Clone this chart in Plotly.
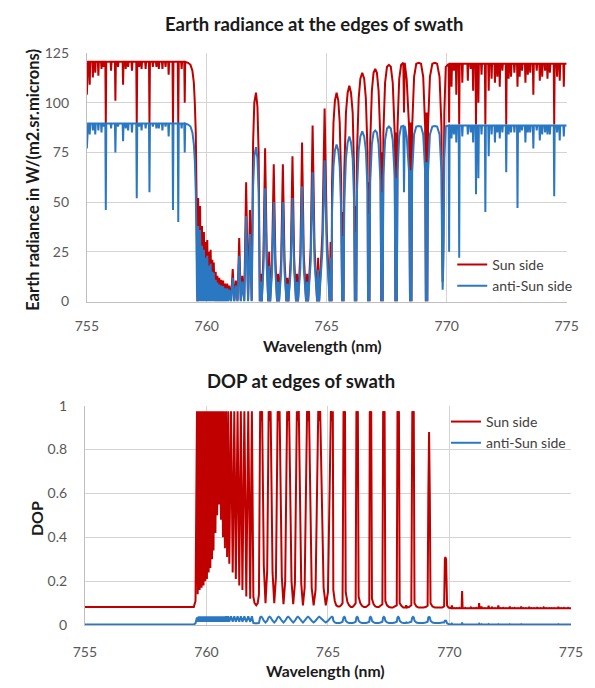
import plotly.graph_objects as go

# ---------------- Earth radiance (top chart) ----------------
# left continuum region 755 - 759.6 nm
left_start_wl = [755.00, 755.05]
left_start_sun = [104, 120.5]
left_start_anti = [77, 89.5]
left_cont_sun = 120.5
left_cont_anti = 89.5
left_lines_wl = [755.12, 755.25, 755.35, 755.48, 755.61, 755.70, 755.79, 756.01, 756.19, 756.30,
                 756.51, 756.62, 756.72, 756.88, 757.08, 757.18, 757.28, 757.45, 757.61, 757.75,
                 757.90, 758.00, 758.15, 758.28, 758.41, 758.59, 758.81, 758.95, 759.08]
left_lines_sun = [109, 112.7, 115, 113.5, 117, 118, 89, 116, 101, 118,
                  109, 117, 118, 116, 89, 118, 117, 117, 89, 118,
                  118, 117, 117, 118, 114, 89, 89, 117, 100]
left_lines_anti = [84, 86, 84, 86, 85, 88, 46, 87, 75, 88,
                   80.6, 87, 86, 85, 52, 88, 86, 87, 55, 88,
                   87, 87, 86, 88, 83, 46, 40, 87, 75]
rolloff_wl = [759.22, 759.32, 759.40, 759.46, 759.50, 759.54, 759.57, 759.59, 759.61]
rolloff_sun = [120, 119, 116, 110, 100, 85, 55, 20, 0]
rolloff_anti = [89, 88, 85, 79, 71, 55, 30, 5, 0]

# dense band 759.6 - 762.2 nm (window peaks / line cores)
band_wl = [759.64, 759.68, 759.72, 759.76, 759.80, 759.84, 759.88, 759.915, 759.95, 759.985,
           760.02, 760.055, 760.09, 760.125, 760.16, 760.195, 760.23, 760.26, 760.29, 760.33,
           760.37, 760.405, 760.44, 760.48, 760.52, 760.56, 760.60, 760.64, 760.68, 760.72,
           760.76, 760.805, 760.85, 760.895, 760.94, 761.01, 761.08, 761.145, 761.21, 761.28,
           761.35, 761.415, 761.48, 761.56, 761.64, 761.72, 761.80, 761.87,
           761.93, 761.98, 762.05, 762.11, 762.16]
band_sun = [52, 0.5, 48, 0.5, 38, 0.5, 35, 0.5, 30, 0.5,
            31, 0.5, 25, 0.5, 26, 0.5, 21, 0.5, 19.6, 0.5,
            15, 0.5, 13, 0.5, 12, 0.5, 11, 0.5, 10.6, 0.5,
            9, 0.5, 9, 0.5, 8, 0.5, 16.3, 0.5, 10.6, 0.5,
            32, 0.5, 13, 0.5, 60, 0.5, 46, 0.5,
            80, 100, 105, 98, 75]
band_anti = [38, 0, 36, 0, 28, 0, 26, 0, 22, 0,
             23, 0, 18, 0, 19, 0, 15, 0, 14.5, 0,
             11, 0, 9.6, 0, 8.5, 0, 8, 0, 7.8, 0,
             6.7, 0, 6.7, 0, 6, 0, 12, 0, 8, 0,
             23, 0, 10, 0, 43, 0, 34, 0,
             58, 73, 77.6, 72, 55]

# P-branch doublets (line cores) and the windows between them, 762.2 - 770 nm
pb_wl = [762.21, 762.25, 762.29, 762.36, 762.43, 762.50,
         762.56, 762.60, 762.64, 762.72, 762.79, 762.86,
         762.93, 762.97, 763.01, 763.10, 763.17, 763.24,
         763.32, 763.36, 763.40, 763.50, 763.57, 763.64,
         763.72, 763.76, 763.80, 763.90, 763.97, 764.04,
         764.14, 764.18, 764.22, 764.33, 764.41, 764.49,
         764.60, 764.64, 764.68, 764.82, 764.91, 765.00,
         765.12, 765.16, 765.20,
         765.22, 765.28, 765.34, 765.41, 765.48, 765.54, 765.60,
         765.64, 765.67, 765.70,
         765.73, 765.80, 765.87, 765.94, 766.01, 766.08, 766.14,
         766.17, 766.20, 766.23,
         766.26, 766.33, 766.40, 766.48, 766.56, 766.63, 766.70,
         766.72, 766.75, 766.78,
         766.81, 766.88, 766.95, 767.02, 767.09, 767.16, 767.24,
         767.27, 767.30, 767.33,
         767.36, 767.43, 767.51, 767.59, 767.67, 767.75, 767.83,
         767.86, 767.89, 767.92,
         767.95, 768.02, 768.10, 768.19, 768.22, 768.25, 768.33, 768.43,
         768.47, 768.50, 768.53,
         768.56, 768.64, 768.73, 768.83, 768.93, 769.02, 769.10,
         769.13, 769.16, 769.19,
         769.22, 769.30, 769.40, 769.50, 769.60, 769.70, 769.78,
         769.81, 769.83, 769.86, 769.90, 769.96]
pb_sun = [0, 14, 0, 23, 77, 23,
          0, 25, 0, 21, 69, 21,
          0, 14, 0, 21, 69, 21,
          0, 12, 0, 22, 73, 22,
          0, 14, 0, 24, 80, 24,
          0, 14, 0, 27, 88.5, 27,
          0, 22, 0, 35, 97, 35,
          0, 30, 0,
          60, 90, 101, 105, 101, 90, 60,
          0, 45, 0,
          65, 95, 105, 108.5, 105, 95, 65,
          0, 48, 0,
          75, 102, 112, 115, 112, 102, 75,
          0, 60, 0,
          80, 106, 115, 117, 115, 106, 80,
          0, 75, 0,
          85, 110, 118, 119, 118, 110, 85,
          0, 85, 0,
          88, 112, 119, 120, 95, 120, 112, 88,
          0, 90, 0,
          88, 113, 119.5, 120, 119.5, 113, 88,
          0, 95, 0,
          88, 113, 119.5, 120, 119.5, 113, 88,
          30, 10, 30, 95, 118]
pb_anti = [0, 10, 0, 17, 57, 17,
           0, 18, 0, 15, 50, 15,
           0, 10, 0, 15, 50, 15,
           0, 9, 0, 16, 52, 16,
           0, 10, 0, 17, 58, 17,
           0, 10, 0, 20, 65, 20,
           0, 16, 0, 26, 71, 26,
           0, 22, 0,
           45, 68, 76, 79, 76, 68, 45,
           0, 33, 0,
           50, 72, 80, 83, 80, 72, 50,
           0, 35, 0,
           56, 76, 83, 85.5, 83, 76, 56,
           0, 44, 0,
           60, 79, 85, 86, 85, 79, 60,
           0, 55, 0,
           63, 81, 87, 88, 87, 81, 63,
           0, 62, 0,
           65, 83, 88, 88.3, 55, 88.3, 83, 65,
           0, 66, 0,
           65, 84, 88, 88.3, 88, 84, 65,
           0, 70, 0,
           65, 84, 88, 88.3, 88, 84, 65,
           20, 6, 20, 72, 88]

# right continuum region 770 - 775 nm
right_cont_sun = 119.5
right_cont_anti = 88.5
right_lines_wl = [770.10, 770.20, 770.30, 770.40, 770.52, 770.65, 770.88, 771.00, 771.10, 771.22,
                  771.32, 771.45, 771.61, 771.75, 771.87, 772.01, 772.11, 772.21, 772.32, 772.48,
                  772.58, 772.68, 772.82, 772.95, 773.04, 773.14, 773.28, 773.38, 773.48, 773.61,
                  773.75, 773.88, 773.98, 774.10, 774.20, 774.30, 774.48, 774.60, 774.71, 774.88]
right_lines_sun = [90, 108, 116, 104, 89, 110, 111, 117, 106, 89,
                   100, 114, 89, 106, 112, 110, 113, 108, 116, 89,
                   112, 113, 115, 108, 113, 116, 110, 114, 115, 104,
                   116, 111, 113, 116, 112, 115, 89, 113, 111, 108]
right_lines_anti = [25, 82, 84, 80, 22, 83, 84, 85, 80, 54,
                    62, 84, 45, 73, 84, 80, 85, 82, 85, 65,
                    84, 85, 85, 47, 85, 86, 80, 85, 85, 77,
                    86, 81, 84, 85, 84, 84, 53, 85, 81, 83]
end_wl = [775.0]

# ---------------- DOP (bottom chart) ----------------
dop_left_wl = [755.0, 759.48, 759.55, 759.61]
dop_left_sun = [0.083, 0.083, 0.11, 0.975]
dop_left_anti = [0.003, 0.003, 0.008, 0.035]
dop_band_sun = [0.14, 0.975, 0.16, 0.975, 0.17, 0.975, 0.18, 0.975, 0.20, 0.975,
                0.21, 0.975, 0.24, 0.975, 0.26, 0.975, 0.30, 0.975, 0.34, 0.975,
                0.42, 0.975, 0.50, 0.975, 0.55, 0.975, 0.48, 0.975, 0.40, 0.975,
                0.35, 0.975, 0.31, 0.975, 0.28, 0.975, 0.24, 0.975, 0.21, 0.975,
                0.18, 0.975, 0.16, 0.975, 0.13, 0.975, 0.12, 0.975,
                0.13, 0.10, 0.09, 0.10, 0.14]
dop_band_anti = [0.015, 0.04, 0.015, 0.04, 0.015, 0.04, 0.015, 0.04, 0.015, 0.04,
                 0.015, 0.04, 0.015, 0.04, 0.015, 0.04, 0.015, 0.04, 0.015, 0.04,
                 0.015, 0.04, 0.015, 0.04, 0.015, 0.04, 0.015, 0.04, 0.015, 0.04,
                 0.015, 0.04, 0.015, 0.04, 0.015, 0.04, 0.015, 0.04, 0.015, 0.04,
                 0.015, 0.04, 0.015, 0.04, 0.015, 0.04, 0.015, 0.04,
                 0.010, 0.008, 0.008, 0.008, 0.010]
dop_pb_sun = [0.975, 0.93, 0.975, 0.27, 0.10, 0.25,
              0.975, 0.93, 0.975, 0.24, 0.10, 0.22,
              0.975, 0.93, 0.975, 0.22, 0.095, 0.20,
              0.975, 0.93, 0.975, 0.20, 0.095, 0.19,
              0.975, 0.93, 0.975, 0.19, 0.09, 0.17,
              0.975, 0.93, 0.975, 0.17, 0.09, 0.16,
              0.975, 0.93, 0.975, 0.17, 0.09, 0.15,
              0.975, 0.93, 0.975,
              0.16, 0.11, 0.09, 0.085, 0.085, 0.09, 0.10,
              0.975, 0.93, 0.975,
              0.15, 0.105, 0.09, 0.083, 0.083, 0.09, 0.10,
              0.975, 0.93, 0.975,
              0.13, 0.10, 0.088, 0.082, 0.082, 0.088, 0.095,
              0.975, 0.93, 0.975,
              0.12, 0.095, 0.085, 0.082, 0.082, 0.088, 0.095,
              0.975, 0.93, 0.975,
              0.11, 0.09, 0.082, 0.08, 0.08, 0.085, 0.09,
              0.975, 0.93, 0.975,
              0.10, 0.088, 0.08, 0.08, 0.09, 0.08, 0.082, 0.09,
              0.975, 0.93, 0.975,
              0.10, 0.085, 0.08, 0.08, 0.08, 0.082, 0.088,
              0.60, 0.88, 0.60,
              0.10, 0.085, 0.08, 0.08, 0.08, 0.08, 0.085,
              0.30, 0.31, 0.30, 0.09, 0.08]
dop_pb_anti = [0.035, 0.038, 0.035, 0.02, 0.012, 0.02,
               0.035, 0.038, 0.035, 0.02, 0.012, 0.02,
               0.035, 0.038, 0.035, 0.02, 0.012, 0.02,
               0.035, 0.038, 0.035, 0.02, 0.012, 0.02,
               0.035, 0.038, 0.035, 0.02, 0.012, 0.02,
               0.035, 0.038, 0.035, 0.02, 0.012, 0.02,
               0.035, 0.038, 0.035, 0.02, 0.012, 0.02,
               0.035, 0.038, 0.035,
               0.02, 0.012, 0.01, 0.01, 0.01, 0.012, 0.015,
               0.035, 0.038, 0.035,
               0.02, 0.012, 0.01, 0.01, 0.01, 0.012, 0.015,
               0.035, 0.038, 0.035,
               0.02, 0.012, 0.01, 0.01, 0.01, 0.012, 0.015,
               0.035, 0.038, 0.035,
               0.02, 0.012, 0.01, 0.01, 0.01, 0.012, 0.015,
               0.035, 0.038, 0.035,
               0.02, 0.012, 0.01, 0.01, 0.01, 0.012, 0.015,
               0.035, 0.038, 0.035,
               0.02, 0.012, 0.01, 0.01, 0.012, 0.01, 0.012, 0.015,
               0.035, 0.038, 0.035,
               0.02, 0.012, 0.01, 0.01, 0.01, 0.012, 0.015,
               0.035, 0.037, 0.035,
               0.02, 0.012, 0.01, 0.01, 0.01, 0.012, 0.012,
               0.02, 0.02, 0.02, 0.008, 0.005]
dop_right_cont_sun = 0.077
dop_right_cont_anti = 0.003
dop_right_lines_sun = [0.09, 0.078, 0.078, 0.079, 0.155, 0.079, 0.08, 0.078, 0.079, 0.10,
                       0.085, 0.078, 0.088, 0.08, 0.078, 0.09, 0.078, 0.079, 0.078, 0.085,
                       0.078, 0.079, 0.078, 0.085, 0.078, 0.078, 0.083, 0.078, 0.078, 0.081,
                       0.078, 0.08, 0.078, 0.078, 0.078, 0.078, 0.083, 0.078, 0.079, 0.079]
dop_right_lines_anti = [0.006, 0.003, 0.003, 0.003, 0.012, 0.003, 0.003, 0.003, 0.003, 0.006,
                        0.004, 0.003, 0.005, 0.003, 0.003, 0.004, 0.003, 0.003, 0.003, 0.004,
                        0.003, 0.003, 0.003, 0.004, 0.003, 0.003, 0.003, 0.003, 0.003, 0.003,
                        0.003, 0.003, 0.003, 0.003, 0.003, 0.003, 0.004, 0.003, 0.003, 0.003]

assert len(band_wl) == len(band_sun) == len(band_anti) == len(dop_band_sun) == len(dop_band_anti)
assert len(pb_wl) == len(pb_sun) == len(pb_anti) == len(dop_pb_sun) == len(dop_pb_anti), \
    (len(pb_wl), len(pb_sun), len(pb_anti), len(dop_pb_sun), len(dop_pb_anti))
assert len(left_lines_wl) == len(left_lines_sun) == len(left_lines_anti)
assert len(right_lines_wl) == len(right_lines_sun) == len(right_lines_anti) == \
    len(dop_right_lines_sun) == len(dop_right_lines_anti)

# ---------------- assemble polylines ----------------
HW = 0.02  # drawn half-width of a narrow absorption line (style)


def spikes(centers, extremes, cont):
    xs, ys = [], []
    for c, v in zip(centers, extremes):
        xs += [c - HW, c, c + HW]
        ys += [cont, v, cont]
    return xs, ys


lx, ls = spikes(left_lines_wl, left_lines_sun, left_cont_sun)
_, la = spikes(left_lines_wl, left_lines_anti, left_cont_anti)
rx, rs = spikes(right_lines_wl, right_lines_sun, right_cont_sun)
_, ra = spikes(right_lines_wl, right_lines_anti, right_cont_anti)

top_x = left_start_wl + lx + rolloff_wl + band_wl + pb_wl + rx + end_wl
top_sun = left_start_sun + ls + rolloff_sun + band_sun + pb_sun + rs + [right_cont_sun]
top_anti = left_start_anti + la + rolloff_anti + band_anti + pb_anti + ra + [right_cont_anti]

_, drs = spikes(right_lines_wl, dop_right_lines_sun, dop_right_cont_sun)
_, dra = spikes(right_lines_wl, dop_right_lines_anti, dop_right_cont_anti)
dop_x = dop_left_wl + band_wl + pb_wl + rx + end_wl
dop_sun = dop_left_sun + dop_band_sun + dop_pb_sun + drs + [dop_right_cont_sun]
dop_anti = dop_left_anti + dop_band_anti + dop_pb_anti + dra + [dop_right_cont_anti]

RED = "#C00000"
BLUE = "#2A78C2"
GRID = "#D4D4D4"
AXL = "#BFBFBF"
TICKC = "#595959"
FONT = "Lato"

fig = go.Figure()
fig.add_trace(go.Scatter(x=top_x, y=top_sun, mode="lines", name="Sun side",
                         line=dict(color=RED, width=2, simplify=False),
                         xaxis="x", yaxis="y", legend="legend"))
fig.add_trace(go.Scatter(x=top_x, y=top_anti, mode="lines", name="anti-Sun side",
                         line=dict(color=BLUE, width=2, simplify=False),
                         xaxis="x", yaxis="y", legend="legend"))
fig.add_trace(go.Scatter(x=dop_x, y=dop_sun, mode="lines", name="Sun side",
                         line=dict(color=RED, width=2, simplify=False),
                         xaxis="x2", yaxis="y2", legend="legend2"))
fig.add_trace(go.Scatter(x=dop_x, y=dop_anti, mode="lines", name="anti-Sun side",
                         line=dict(color=BLUE, width=2, simplify=False),
                         xaxis="x2", yaxis="y2", legend="legend2"))

axis_common = dict(showgrid=True, gridcolor=GRID, gridwidth=1, showline=True, linecolor=AXL,
                   linewidth=1, zeroline=False, ticks="",
                   tickfont=dict(family=FONT, size=14, color=TICKC))

fig.update_layout(
    width=595, height=688,
    margin=dict(l=0, r=0, t=0, b=0),
    paper_bgcolor="white", plot_bgcolor="white",
    showlegend=True,
    xaxis=dict(domain=[0.13109, 0.97143], range=[755, 775], anchor="y",
               tickvals=[755, 760, 765, 770, 775], ticklabelstandoff=12, **axis_common),
    yaxis=dict(domain=[0.56395, 0.93459], range=[0, 125], anchor="x",
               tickvals=[0, 25, 50, 75, 100, 125], ticklabelstandoff=14, **axis_common),
    xaxis2=dict(domain=[0.12773, 0.97899], range=[755, 775], anchor="y2",
                tickvals=[755, 760, 765, 770, 775], ticklabelstandoff=14, **axis_common),
    yaxis2=dict(domain=[0.08183, 0.40887], range=[0, 1], anchor="x2",
                tickvals=[0, 0.2, 0.4, 0.6, 0.8, 1.0],
                ticktext=["0", "0.2", "0.4", "0.6", "0.8", "1"], ticklabelstandoff=14, **axis_common),
    legend=dict(x=0.771, y=0.6424, xanchor="left", yanchor="top", bgcolor="rgba(0,0,0,0)",
                font=dict(family=FONT, size=14, color="#404040"), itemwidth=30, tracegroupgap=0),
    legend2=dict(x=0.760, y=0.4084, xanchor="left", yanchor="top", bgcolor="rgba(0,0,0,0)",
                 font=dict(family=FONT, size=14, color="#404040"), itemwidth=30, tracegroupgap=0),
)

ann = [
    dict(text="<b>Earth radiance at the edges of swath</b>", x=0.5294, y=0.9772,
         font=dict(family=FONT, size=18.5, color="#1a1a1a")),
    dict(text="<b>DOP at edges of swath</b>", x=0.506, y=0.4452,
         font=dict(family=FONT, size=18.5, color="#1a1a1a")),
    dict(text="<b>Wavelength (nm)</b>", x=0.5445, y=0.4985,
         font=dict(family=FONT, size=15.8, color="#1a1a1a")),
    dict(text="<b>Wavelength (nm)</b>", x=0.5487, y=0.0145,
         font=dict(family=FONT, size=15.8, color="#1a1a1a")),
    dict(text="<b>Earth radiance in W/(m2.sr.microns)</b>", x=0.037, y=0.7456, textangle=-90,
         font=dict(family=FONT, size=16.5, color="#1a1a1a")),
    dict(text="<b>DOP</b>", x=0.042, y=0.2413, textangle=-90,
         font=dict(family=FONT, size=16, color="#1a1a1a")),
]
for a in ann:
    a.update(xref="paper", yref="paper", showarrow=False, xanchor="center", yanchor="middle")
fig.update_layout(annotations=ann)

fig.write_html("out.html")
